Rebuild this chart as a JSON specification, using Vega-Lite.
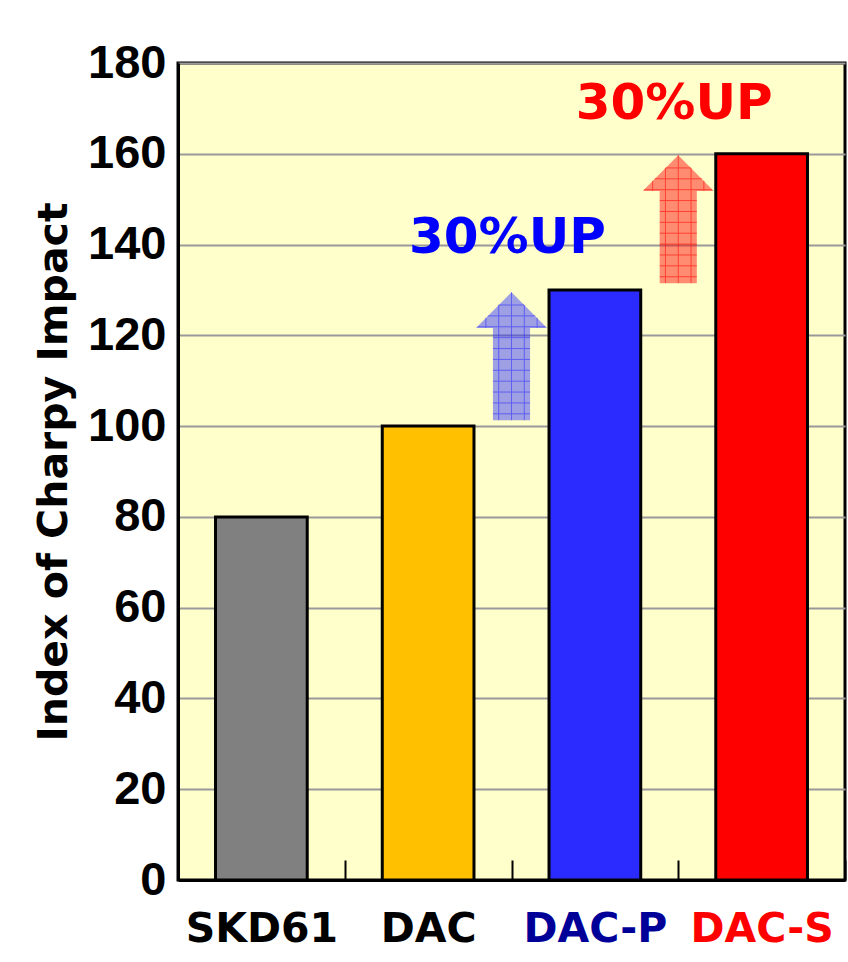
{
  "$schema": "https://vega.github.io/schema/vega-lite/v6.json",
  "width": 667,
  "height": 817,
  "autosize": "none",
  "padding": {"left": 178, "top": 63, "right": 3, "bottom": 82},
  "background": "white",
  "config": {
    "view": {"fill": "#FFFFCC", "stroke": "black", "strokeWidth": 3},
    "font": "DejaVu Sans"
  },
  "datasets": {
    "bars": [
      {"steel": "SKD61", "index": 80},
      {"steel": "DAC", "index": 100},
      {"steel": "DAC-P", "index": 130},
      {"steel": "DAC-S", "index": 160}
    ],
    "arrows": [
      {"steel": "DAC-P", "mid": 115.4},
      {"steel": "DAC-S", "mid": 145.6}
    ],
    "notes": [
      {"steel": "DAC-P", "level": 141.5, "text": "30%UP"},
      {"steel": "DAC-S", "level": 171, "text": "30%UP"}
    ]
  },
  "layer": [
    {
      "data": {"name": "bars"},
      "mark": {"type": "bar", "width": {"band": 0.55}, "stroke": "black", "strokeWidth": 3},
      "encoding": {
        "x": {
          "field": "steel", "type": "nominal", "sort": null,
          "scale": {"domain": ["SKD61", "DAC", "DAC-P", "DAC-S"], "paddingInner": 0, "paddingOuter": 0},
          "axis": {
            "title": null,
            "tickBand": "extent",
            "tickSize": -20,
            "tickColor": "black",
            "tickWidth": 2,
            "domainColor": "black",
            "domainWidth": 3,
            "labelFont": "DejaVu Sans",
            "labelFontSize": 41,
            "labelFontWeight": "bold",
            "labelAngle": 0,
            "labelPadding": 49,
            "labelColor": {
              "condition": [
                {"test": "datum.value === 'DAC-P'", "value": "#000099"},
                {"test": "datum.value === 'DAC-S'", "value": "#FF0000"}
              ],
              "value": "black"
            }
          }
        },
        "y": {
          "field": "index", "type": "quantitative",
          "scale": {"domain": [0, 180], "nice": false},
          "axis": {
            "title": "Index of Charpy Impact",
            "values": [0, 20, 40, 60, 80, 100, 120, 140, 160, 180],
            "grid": true,
            "gridColor": "#999999",
            "gridWidth": 2,
            "ticks": false,
            "domainColor": "black",
            "domainWidth": 3,
            "labelFont": "Liberation Sans",
            "labelFontSize": 47,
            "labelFontWeight": "bold",
            "labelColor": "black",
            "labelPadding": 12,
            "titleFont": "DejaVu Sans",
            "titleFontSize": 41,
            "titleFontWeight": "bold",
            "titleColor": "black",
            "titlePadding": 12
          }
        },
        "color": {
          "field": "steel", "type": "nominal",
          "scale": {"domain": ["SKD61", "DAC", "DAC-P", "DAC-S"], "range": ["#808080", "#FFC000", "#2B2BFF", "#FF0000"]},
          "legend": null
        }
      }
    },
    {
      "data": {"name": "arrows"},
      "mark": {
        "type": "point",
        "shape": "M -0.29 1 L -0.29 -0.44 L -0.555 -0.44 L 0 -1 L 0.555 -0.44 L 0.29 -0.44 L 0.29 1 Z",
        "size": 16384,
        "filled": true,
        "opacity": 0.45,
        "strokeWidth": 0
      },
      "encoding": {
        "x": {"field": "steel", "type": "nominal", "bandPosition": 0},
        "y": {"field": "mid", "type": "quantitative"},
        "color": {"field": "steel", "type": "nominal", "legend": null}
      }
    },
    {
      "data": {"name": "arrows"},
      "mark": {
        "type": "point",
        "shape": "M 0 -1 L 0 1 M -0.2 -0.8 L -0.2 1 M 0.2 -0.8 L 0.2 1 M -0.4 -0.6 L -0.4 -0.44 M 0.4 -0.6 L 0.4 -0.44 M -0.2 -0.8 L 0.2 -0.8 M -0.37 -0.63 L 0.37 -0.63 M -0.53 -0.46 L 0.53 -0.46 M -0.29 -0.29 L 0.29 -0.29 M -0.29 -0.12 L 0.29 -0.12 M -0.29 0.05 L 0.29 0.05 M -0.29 0.22 L 0.29 0.22 M -0.29 0.39 L 0.29 0.39 M -0.29 0.56 L 0.29 0.56 M -0.29 0.73 L 0.29 0.73 M -0.29 0.9 L 0.29 0.9",
        "size": 16384,
        "filled": false,
        "opacity": 0.55,
        "strokeWidth": 1
      },
      "encoding": {
        "x": {"field": "steel", "type": "nominal", "bandPosition": 0},
        "y": {"field": "mid", "type": "quantitative"},
        "color": {"field": "steel", "type": "nominal", "legend": null}
      }
    },
    {
      "data": {"name": "notes"},
      "mark": {"type": "text", "font": "DejaVu Sans", "fontSize": 50, "fontWeight": "bold", "align": "center", "baseline": "middle", "dx": -4},
      "encoding": {
        "x": {"field": "steel", "type": "nominal", "bandPosition": 0},
        "y": {"field": "level", "type": "quantitative"},
        "text": {"field": "text"},
        "fill": {
          "field": "steel", "type": "nominal",
          "scale": {"domain": ["DAC-P", "DAC-S"], "range": ["#0000FF", "#FF0000"]},
          "legend": null
        }
      }
    }
  ]
}
